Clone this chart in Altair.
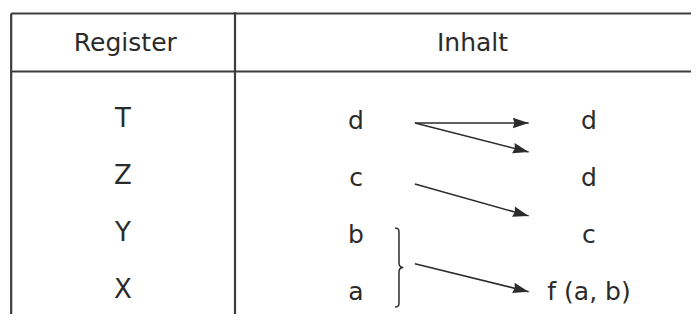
import math
import altair as alt
import pandas as pd

# ---------------- data ----------------
header_labels = ["Register", "Inhalt"]
register_names = ["T", "Z", "Y", "X"]
contents_before = ["d", "c", "b", "a"]
contents_after = ["d", "d", "c", "f (a, b)"]
row_index = [1, 2, 3, 4]

# arrows (in row units): where each arrow leaves and where it points to
arrow_from_row = [1.07, 1.07, 2.14, 3.54]
arrow_to_row = [1.07, 1.58, 2.70, 4.03]

# ---------------- layout (data units: column index / row index) ----------------
W, H = 683, 306
PX_PER_COL, PX_PER_ROW = 233.0, 57.0
X_DOMAIN = [-0.4936, 2.4378]
Y_DOMAIN = [-0.9474, 4.4211]
COL_REG, COL_BEFORE, COL_AFTER = 0, 1, 2
HEADER_COLS = [0.01, 1.5]
HEADER_ROW = -0.333
TOP_LINE, HEAD_LINE = -0.851, 0.167
LEFT_BORDER, DIVIDER = -0.48, 0.4807
ARROW_START_COL, ARROW_END_COL = 1.253, 1.741
BRACE_COL, BRACE_ROW = 1.1845, 3.605

INK = "#2b2b2b"
LINE = "#3c3c3c"
FONT = "DejaVu Sans"

xs = alt.Scale(domain=X_DOMAIN, nice=False, zero=False)
ys = alt.Scale(domain=Y_DOMAIN, nice=False, zero=False, reverse=True)

# table frame lines
frame = pd.DataFrame({
    "x": [LEFT_BORDER, LEFT_BORDER, LEFT_BORDER, DIVIDER],
    "x2": [2.6, 2.6, LEFT_BORDER, DIVIDER],
    "y": [TOP_LINE, HEAD_LINE, TOP_LINE, TOP_LINE - 0.02],
    "y2": [TOP_LINE, HEAD_LINE, 4.7, 4.526],
})
frame_layer = alt.Chart(frame).mark_rule(color=LINE, strokeWidth=2.2).encode(
    x=alt.X("x:Q", scale=xs, axis=None),
    x2="x2:Q",
    y=alt.Y("y:Q", scale=ys, axis=None),
    y2="y2:Q",
)

# texts
header_df = pd.DataFrame({"x": HEADER_COLS, "y": [HEADER_ROW] * 2, "t": header_labels})
reg_df = pd.DataFrame({"x": [COL_REG] * 4, "y": row_index, "t": register_names})
cont_df = pd.DataFrame({
    "x": [COL_BEFORE] * 4 + [COL_AFTER] * 4,
    "y": row_index + row_index,
    "t": contents_before + contents_after,
})

def text_layer(df, size, dy=0):
    return alt.Chart(df).mark_text(
        font=FONT, fontSize=size, color=INK, align="center", baseline="middle", dy=dy
    ).encode(
        x=alt.X("x:Q", scale=xs, axis=None),
        y=alt.Y("y:Q", scale=ys, axis=None),
        text="t:N",
    )

# arrows
arr = pd.DataFrame({
    "x": [ARROW_START_COL] * 4,
    "x2": [ARROW_END_COL] * 4,
    "y": arrow_from_row,
    "y2": arrow_to_row,
})
arr["angle"] = [
    math.degrees(math.atan2((b - a) * PX_PER_ROW, (ARROW_END_COL - ARROW_START_COL) * PX_PER_COL))
    for a, b in zip(arrow_from_row, arrow_to_row)
]
arrow_lines = alt.Chart(arr).mark_rule(color=INK, strokeWidth=1.5).encode(
    x=alt.X("x:Q", scale=xs, axis=None),
    x2="x2:Q",
    y=alt.Y("y:Q", scale=ys, axis=None),
    y2="y2:Q",
)
arrow_heads = alt.Chart(arr).mark_point(
    shape="M0,0 L-1,-0.33 L-0.9,0 L-1,0.33 Z", filled=True, color=INK, opacity=1,
    size=1000, strokeWidth=0,
).encode(
    x=alt.X("x2:Q", scale=xs, axis=None),
    y=alt.Y("y2:Q", scale=ys, axis=None),
    angle=alt.Angle("angle:Q", scale=None),
)

# brace grouping b and a
brace_df = pd.DataFrame({"x": [BRACE_COL], "y": [BRACE_ROW]})
brace = alt.Chart(brace_df).mark_point(
    shape="M-0.1,-1 C0,-1 0,-0.96 0,-0.86 L0,-0.12 C0,-0.04 0.04,0 0.11,0 "
          "C0.04,0 0,0.04 0,0.12 L0,0.86 C0,0.96 0,1 -0.1,1",
    filled=False, color=INK, opacity=1, size=6241, strokeWidth=1.5,
).encode(
    x=alt.X("x:Q", scale=xs, axis=None),
    y=alt.Y("y:Q", scale=ys, axis=None),
)

chart = alt.layer(
    frame_layer,
    text_layer(header_df, 25),
    text_layer(reg_df, 26),
    text_layer(cont_df, 25, dy=2),
    arrow_lines,
    arrow_heads,
    brace,
).properties(
    width=W, height=H, padding=0,
    autosize=alt.AutoSizeParams(type="none"),
    background="white",
).configure_view(strokeWidth=0)

chart.save("out.html", embed_options={"renderer": "svg", "actions": False})
